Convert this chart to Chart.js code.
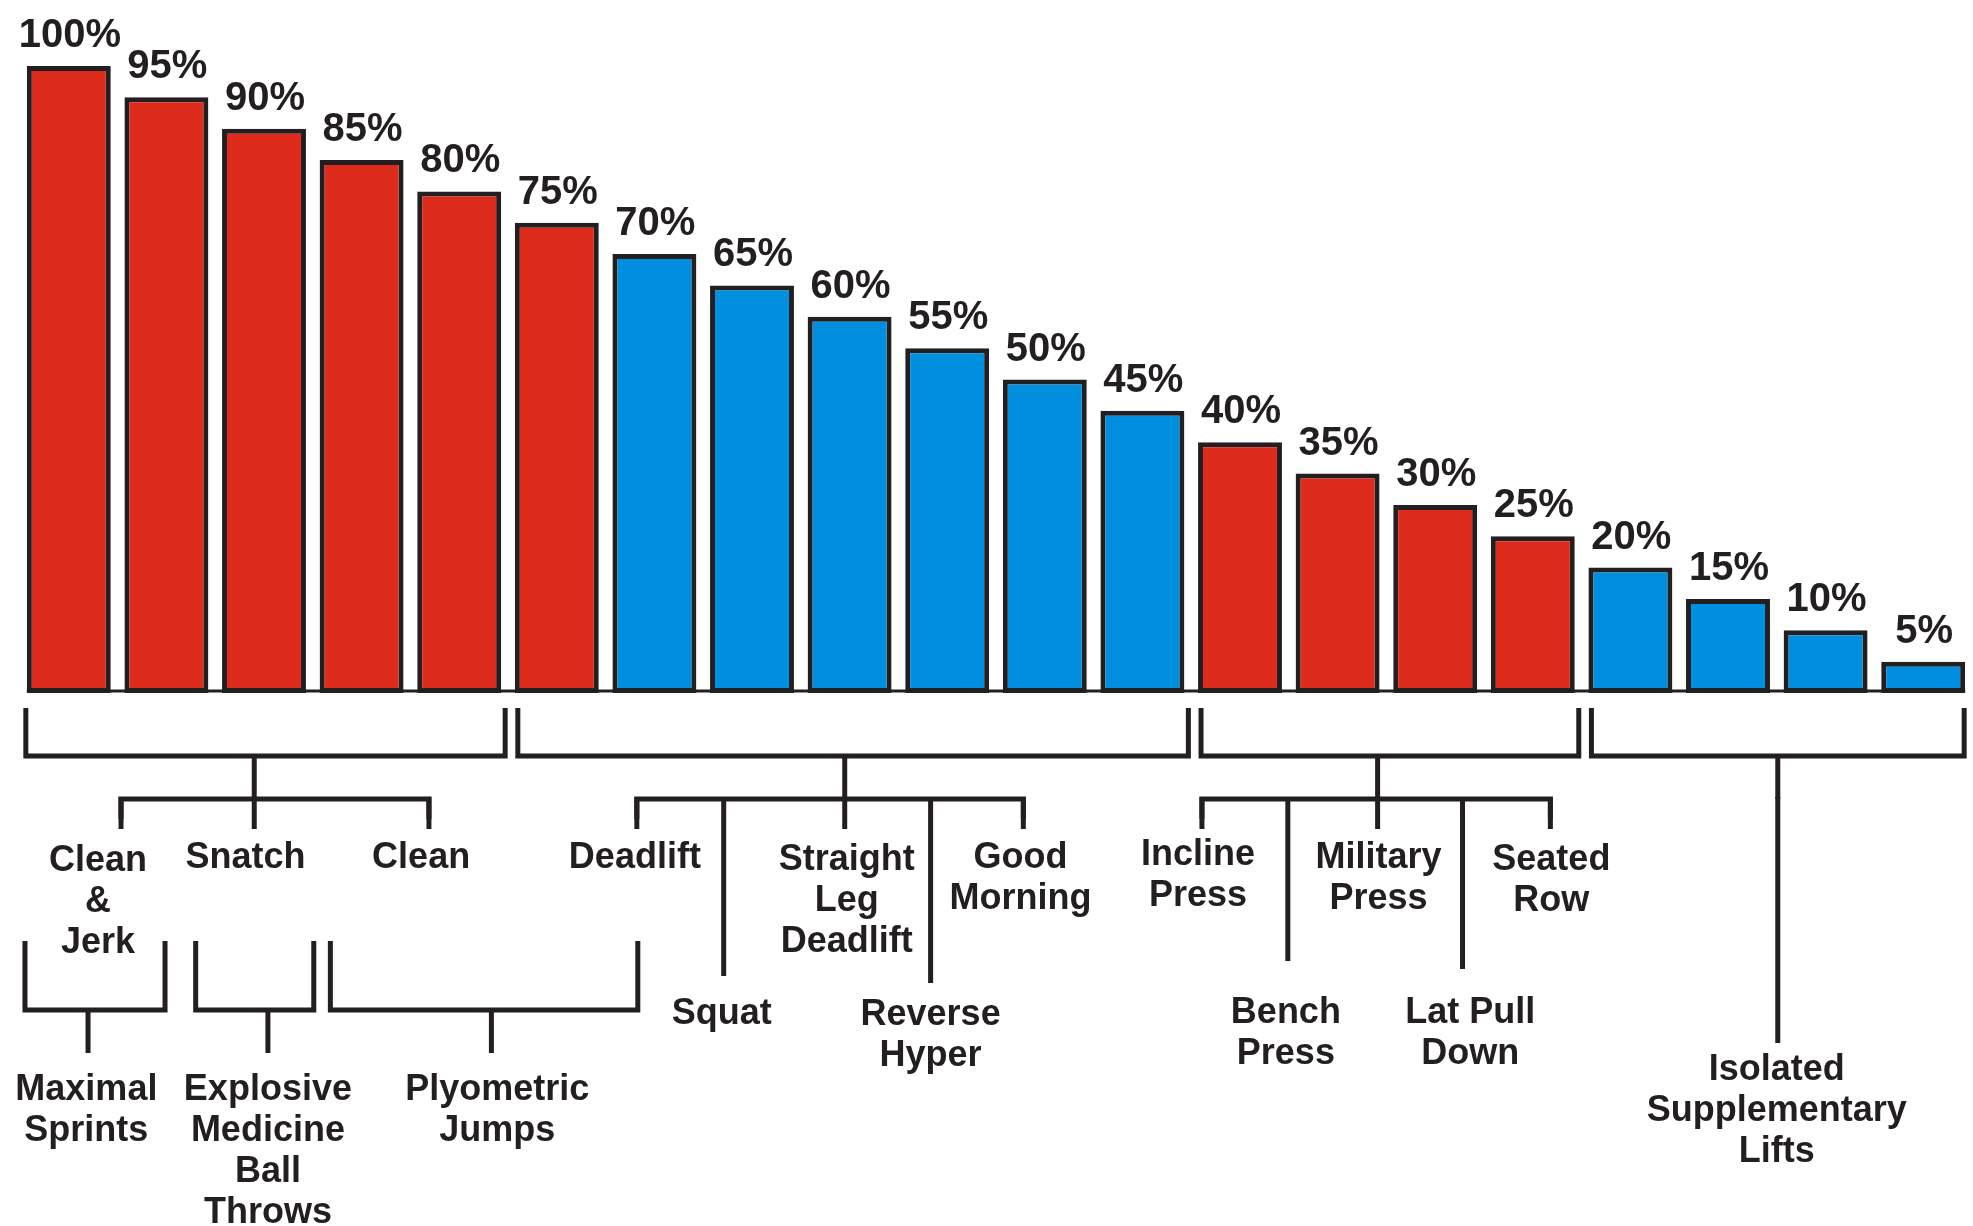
<!DOCTYPE html>
<html lang="en">
<head>
  <meta charset="UTF-8" />
  <title>Training Intensity</title>
  <script src="https://cdn.jsdelivr.net/npm/chart.js"></script>
  <style>
    body {
      margin: 0;
      background: #ffffff;
    }

    .wrap {
      width: 1973px;
      height: 1226px;
      position: relative;
    }
  </style>
</head>
<body>
  <div class="wrap"><canvas id="barChart"></canvas></div>

  <script>
    // bar data
    const categories = ['100%', '95%', '90%', '85%', '80%', '75%', '70%', '65%', '60%', '55%',
      '50%', '45%', '40%', '35%', '30%', '25%', '20%', '15%', '10%', '5%'];
    const values = [100, 95, 90, 85, 80, 75, 70, 65, 60, 55, 50, 45, 40, 35, 30, 25, 20, 15, 10, 5];
    const tones = ['red', 'red', 'red', 'red', 'red', 'red',
      'blue', 'blue', 'blue', 'blue', 'blue', 'blue',
      'red', 'red', 'red', 'red',
      'blue', 'blue', 'blue', 'blue'];

    // bars grouped by the brackets below the chart (first and last bar index)
    const groupFirst = [0, 5, 12, 16];
    const groupLast = [4, 11, 15, 19];

    const palette = { red: '#dc2a1b', blue: '#008fdf' };
    const ink = '#231f20';

    // tree layout under the bars; x in category units, y in pixels
    const Y = { gTop: 708, gBar: 756, sub: 799, l3Top: 941, l3Bar: 1010, l3Stem: 1053, line: 41 };

    const subBrackets = [
      { stem: 1.90, drops: [[0.535, 829], [1.90, 829], [3.69, 829]] },
      { stem: 7.95, drops: [[5.82, 829], [6.71, 976], [7.95, 829], [8.83, 983], [9.78, 829]] },
      { stem: 13.41, drops: [[11.61, 829], [12.49, 961], [13.41, 829], [14.28, 969], [15.18, 829]] },
      { stem: 17.51, drops: [[17.51, 1043]] }
    ];

    const drillBrackets = [
      { left: -0.449, right: 0.986, stem: 0.197 },
      { left: 1.30, right: 2.51, stem: 2.04 },
      { left: 2.68, right: 5.83, stem: 4.33 }
    ];

    const exerciseLabels = [
      { at: 0.30, base: 871, lines: ['Clean', '&', 'Jerk'] },
      { at: 1.81, base: 868, lines: ['Snatch'] },
      { at: 3.61, base: 868, lines: ['Clean'] },
      { at: 5.80, base: 868, lines: ['Deadlift'] },
      { at: 6.69, base: 1024, lines: ['Squat'] },
      { at: 7.97, base: 870, lines: ['Straight', 'Leg', 'Deadlift'] },
      { at: 8.83, base: 1025, lines: ['Reverse', 'Hyper'] },
      { at: 9.75, base: 868, lines: ['Good', 'Morning'] },
      { at: 11.57, base: 865, lines: ['Incline', 'Press'] },
      { at: 12.47, base: 1023, lines: ['Bench', 'Press'] },
      { at: 13.42, base: 868, lines: ['Military', 'Press'] },
      { at: 14.36, base: 1023, lines: ['Lat Pull', 'Down'] },
      { at: 15.19, base: 870, lines: ['Seated', 'Row'] },
      { at: 0.18, base: 1100, lines: ['Maximal', 'Sprints'] },
      { at: 2.04, base: 1100, lines: ['Explosive', 'Medicine', 'Ball', 'Throws'] },
      { at: 4.39, base: 1100, lines: ['Plyometric', 'Jumps'] },
      { at: 17.50, base: 1080, lines: ['Isolated', 'Supplementary', 'Lifts'] }
    ];

    function seg(ctx, pts) {
      ctx.beginPath();
      ctx.moveTo(pts[0][0], pts[0][1]);
      for (let i = 1; i < pts.length; i++) ctx.lineTo(pts[i][0], pts[i][1]);
      ctx.stroke();
    }

    const treePlugin = {
      id: 'tree',
      beforeDatasetsDraw(chart) {
        const ctx = chart.ctx;
        const meta = chart.getDatasetMeta(0);
        const y0 = chart.scales.y.getPixelForValue(0);
        const first = meta.data[0];
        const last = meta.data[meta.data.length - 1];
        ctx.save();
        ctx.strokeStyle = ink;
        ctx.lineWidth = 3;
        seg(ctx, [[first.x - first.width / 2, y0 - 2], [last.x + last.width / 2, y0 - 2]]);
        ctx.restore();
      },
      afterDatasetsDraw(chart) {
        const ctx = chart.ctx;
        const xs = chart.scales.x;
        const meta = chart.getDatasetMeta(0);
        const px = v => xs.getPixelForValue(v);

        ctx.save();
        ctx.fillStyle = ink;
        ctx.strokeStyle = ink;
        ctx.textAlign = 'center';
        ctx.textBaseline = 'alphabetic';

        // percentage labels above bars
        ctx.font = 'bold 40px "Liberation Sans", Arial, sans-serif';
        meta.data.forEach((bar, i) => {
          ctx.fillText(categories[i], bar.x + 1, bar.y - 19);
        });

        ctx.lineWidth = 5;
        ctx.lineJoin = 'miter';
        ctx.lineCap = 'butt';

        // group brackets
        groupFirst.forEach((f, g) => {
          const a = meta.data[f];
          const b = meta.data[groupLast[g]];
          const l = a.x - a.width / 2 + (f === 0 ? -1 : 3);
          const r = b.x + b.width / 2 + (g === groupFirst.length - 1 ? -1 : 4);
          seg(ctx, [[l, Y.gTop], [l, Y.gBar], [r, Y.gBar], [r, Y.gTop]]);
        });

        // exercise brackets
        subBrackets.forEach(s => {
          seg(ctx, [[px(s.stem), Y.gBar], [px(s.stem), Y.sub]]);
          if (s.drops.length > 1) {
            const xa = px(s.drops[0][0]);
            const xb = px(s.drops[s.drops.length - 1][0]);
            seg(ctx, [[xa, Y.sub + 20], [xa, Y.sub], [xb, Y.sub], [xb, Y.sub + 20]]);
          }
          s.drops.forEach(d => {
            seg(ctx, [[px(d[0]), Y.sub - 2], [px(d[0]), d[1]]]);
          });
        });

        // drill brackets
        drillBrackets.forEach(d => {
          const l = px(d.left), r = px(d.right), m = px(d.stem);
          seg(ctx, [[l, Y.l3Top], [l, Y.l3Bar], [r, Y.l3Bar], [r, Y.l3Top]]);
          seg(ctx, [[m, Y.l3Bar], [m, Y.l3Stem]]);
        });

        // names
        ctx.font = 'bold 36px "Liberation Sans", Arial, sans-serif';
        exerciseLabels.forEach(lab => {
          lab.lines.forEach((t, k) => {
            ctx.fillText(t, px(lab.at), lab.base + k * Y.line);
          });
        });

        ctx.restore();
      }
    };

    const barCtx = document.getElementById('barChart').getContext('2d');
    new Chart(barCtx, {
      type: 'bar',
      data: {
        labels: categories,
        datasets: [{
          data: values,
          backgroundColor: tones.map(t => palette[t]),
          borderColor: ink,
          borderWidth: 5,
          borderSkipped: false,
          barPercentage: 0.86,
          categoryPercentage: 1
        }]
      },
      options: {
        responsive: true,
        maintainAspectRatio: false,
        animation: false,
        layout: {
          padding: { top: 66, left: 20, right: 1, bottom: 533 }
        },
        plugins: {
          legend: { display: false },
          tooltip: { enabled: false }
        },
        scales: {
          x: { display: false },
          y: { display: false, min: 0, max: 100 }
        }
      },
      plugins: [treePlugin]
    });
  </script>
</body>
</html>
